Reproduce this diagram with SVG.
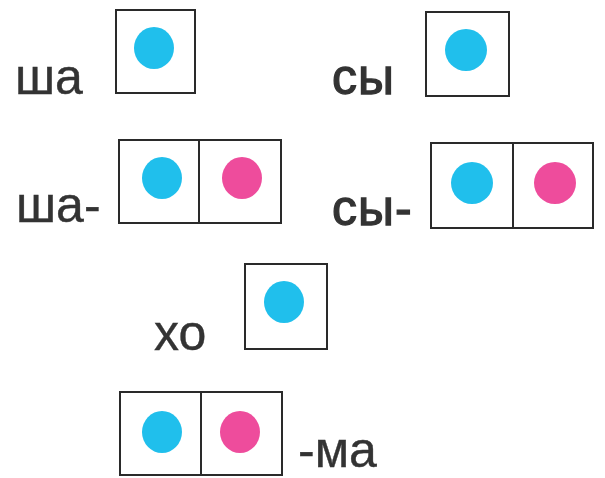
<svg xmlns="http://www.w3.org/2000/svg" width="605" height="478" viewBox="0 0 605 478">
<style>
.box{fill:#fff;stroke:#2a2a2a;stroke-width:2}
.b{fill:#20bfec}
.p{fill:#ee4c9c}
.t{font-family:"Liberation Sans",Arial,sans-serif;font-size:50px;fill:#333;stroke:#333;stroke-width:0.4}
.s{stroke-width:1.3;letter-spacing:1px}
</style>
<rect width="605" height="478" fill="#fff"/>
<g id="node-sha">
<text class="t" x="15" y="94">ша</text>
<rect class="box" x="116" y="10" width="79" height="83"/>
<ellipse class="b" cx="154" cy="48" rx="20" ry="21"/>
</g>
<g id="node-sy">
<text class="t s" x="332" y="94">сы</text>
<rect class="box" x="426" y="12" width="83" height="84"/>
<ellipse class="b" cx="466" cy="50" rx="21" ry="21"/>
</g>
<g id="node-sha2">
<text class="t" x="16" y="222">ша-</text>
<rect class="box" x="119" y="140" width="162" height="83"/>
<line class="box" x1="199" y1="140" x2="199" y2="223"/>
<ellipse class="b" cx="162" cy="178" rx="20" ry="21"/>
<ellipse class="p" cx="242" cy="178" rx="20" ry="21"/>
</g>
<g id="node-sy2">
<text class="t s" x="332" y="225">сы-</text>
<rect class="box" x="431" y="143" width="162" height="85"/>
<line class="box" x1="513" y1="143" x2="513" y2="228"/>
<ellipse class="b" cx="472" cy="183" rx="21" ry="21"/>
<ellipse class="p" cx="555" cy="183" rx="21" ry="21"/>
</g>
<g id="node-kho">
<text class="t" x="154" y="350">хо</text>
<rect class="box" x="245" y="264" width="82" height="85"/>
<ellipse class="b" cx="284" cy="302" rx="20" ry="21"/>
</g>
<g id="node-ma">
<rect class="box" x="120" y="392" width="162" height="83"/>
<line class="box" x1="201" y1="392" x2="201" y2="475"/>
<ellipse class="b" cx="162" cy="432" rx="20" ry="21"/>
<ellipse class="p" cx="240" cy="432" rx="20" ry="21"/>
<text class="t" x="298" y="467">-ма</text>
</g>
<g id="connectors"/>
</svg>
